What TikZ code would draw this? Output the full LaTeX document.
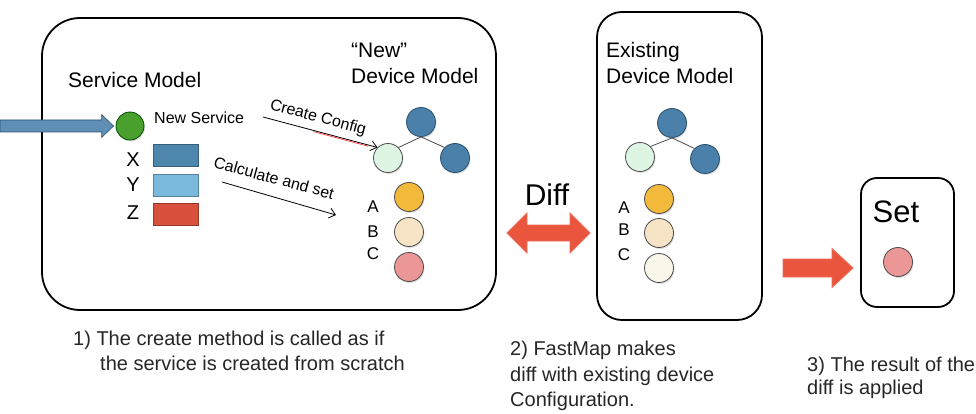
\documentclass[tikz,border=0pt]{standalone}
\usepackage{fontspec}
\setmainfont{Liberation Sans}
\usetikzlibrary{arrows.meta,shadows,calc}
\definecolor{tblue}{HTML}{4A80AA}
\definecolor{tblueb}{HTML}{2B506C}
\definecolor{lgreen}{HTML}{DDF5E2}
\definecolor{aorange}{HTML}{F2B93B}
\definecolor{bcream}{HTML}{F7E3C5}
\definecolor{cpink}{HTML}{EB9798}
\definecolor{cpale}{HTML}{FBF6EA}
\definecolor{sgreen}{HTML}{4AA02C}
\definecolor{xblue}{HTML}{4F86AD}
\definecolor{yblue}{HTML}{7AB8DC}
\definecolor{zred}{HTML}{D9503C}
\definecolor{arrblue}{HTML}{5F8FB5}
\definecolor{arrred}{HTML}{E9553D}
\tikzset{
  boxline/.style={draw=black, line width=1.8pt, fill=none, inner sep=0pt},
  circ/.style={circle, draw=black!70, line width=0.8pt, minimum size=29pt, inner sep=0pt,
     drop shadow={opacity=0.25, shadow xshift=1pt, shadow yshift=-1.5pt}},
  sq/.style={rectangle, line width=0.8pt, minimum width=45pt, minimum height=22pt, inner sep=0pt},
  big/.style={font=\fontsize{21}{26}\selectfont, inner sep=0pt},
  med/.style={font=\fontsize{16}{19}\selectfont, inner sep=0pt},
  small/.style={font=\fontsize{17}{20}\selectfont, inner sep=0pt},
  note/.style={font=\fontsize{20}{24}\selectfont, inner sep=0pt, align=left, text=black!85},
  thinarrow/.style={draw=black, line width=0.8pt, -{Straight Barb[length=6pt,width=10pt]}},
  treeedge/.style={draw=black!70, line width=0.8pt},
  fatblue/.style={fill=arrblue, draw=tblueb, line width=0.6pt},
  fatred/.style={fill=arrred, draw=arrred!85!white, line width=0.8pt},
}
\begin{document}
\begin{tikzpicture}[x=1pt,y=-1pt]
\useasboundingbox (0,0) rectangle (976,414);

% boxes
\node[boxline, rounded corners=38pt, minimum width=454pt, minimum height=292pt] (box1) at (269,164) {};
\node[boxline, rounded corners=25pt, minimum width=165pt, minimum height=308pt] (box2) at (679.5,166) {};
\node[boxline, rounded corners=16pt, minimum width=93pt, minimum height=129pt] (box3) at (907.5,242.5) {};

% titles
\node[big, anchor=west] (svc) at (68,80) {Service Model};
\node[big, anchor=west, align=left] (newdm) at (351,63) {“New”\\Device Model};
\node[big, anchor=west, align=left] (exdm) at (606,63) {Existing\\Device Model};

% service model
\node[circ, fill=sgreen, draw=green!30!black, minimum size=28pt] (sg) at (130,126) {};
\coordinate (in0) at (0,126);
\coordinate (in1) at ([xshift=-2pt]sg.west);
\fill[fatblue] ($(in0)+(0,-6)$) -- ($(in1)+(-12,-6)$) -- ($(in1)+(-12,-11.5)$) -- (in1)
   -- ($(in1)+(-12,11.5)$) -- ($(in1)+(-12,6)$) -- ($(in0)+(0,6)$) -- cycle;
\node[med, anchor=west] (newsvc) at (154,118) {New Service};
\node[sq, fill=xblue, draw=xblue!70!black] (rx) at (175.5,155) {};
\node[sq, fill=yblue, draw=yblue!70!black] (ry) at (175.5,185) {};
\node[sq, fill=zred, draw=zred!70!black] (rz) at (175.5,214.5) {};
\node[font=\fontsize{20}{24}\selectfont, inner sep=0pt] (lx) at (133,160) {X};
\node[font=\fontsize{20}{24}\selectfont, inner sep=0pt] (ly) at (133,185) {Y};
\node[font=\fontsize{20}{24}\selectfont, inner sep=0pt] (lz) at (133,213) {Z};

% new device tree
\node[circ, fill=tblue, draw=tblueb] (nt) at (421,122) {};
\node[circ, fill=lgreen] (nl) at (388,158) {};
\node[circ, fill=tblue, draw=tblueb] (nr) at (455,158) {};
\draw[treeedge] (nt.south) -- (nl.north east);
\draw[treeedge] (nt.south) -- (nr.north west);
\node[circ, fill=aorange] (na) at (409,197) {};
\node[circ, fill=bcream] (nb) at (409,232) {};
\node[circ, fill=cpink] (nc) at (409,267) {};
\node[small] (nla) at (373,207) {A};
\node[small] (nlb) at (373,232) {B};
\node[small] (nlc) at (373,254) {C};

% create config arrow
\coordinate (cc0) at (263,117);
\draw[thinarrow] (cc0) -- (nl.north west);
\draw[red!80, line width=0.7pt] ($(cc0)!0.44!(nl.north west)+(0,1.2)$) -- ($(cc0)!0.92!(nl.north west)+(0,1.2)$);
\node[med, rotate=-15] (cctext) at (318,118) {Create Config};

% calculate arrow
\coordinate (ca0) at (222,182);
\coordinate (ca1) at (336,215);
\draw[thinarrow] (ca0) -- (ca1);
\node[med, rotate=-15] (catext) at (274,178) {Calculate and set};

% existing device tree
\node[circ, fill=tblue, draw=tblueb] (et) at (672,123) {};
\node[circ, fill=lgreen] (el) at (640,157) {};
\node[circ, fill=tblue, draw=tblueb] (er) at (705,159) {};
\draw[treeedge] (et.south) -- (el.north east);
\draw[treeedge] (et.south) -- (er.north west);
\node[circ, fill=aorange] (ea) at (659,199) {};
\node[circ, fill=bcream] (eb) at (659,233) {};
\node[circ, fill=cpale] (ec) at (659,268) {};
\node[small] (ela) at (624,208) {A};
\node[small] (elb) at (624,230) {B};
\node[small] (elc) at (624,255) {C};

% diff arrow
\coordinate (d0) at (507,233);
\coordinate (d1) at (590,233);
\fill[fatred] (d0) -- ($(d0)+(20,-20)$) -- ($(d0)+(20,-8)$) -- ($(d1)+(-20,-8)$) -- ($(d1)+(-20,-20)$)
   -- (d1) -- ($(d1)+(-20,20)$) -- ($(d1)+(-20,8)$) -- ($(d0)+(20,8)$) -- ($(d0)+(20,20)$) -- cycle;
\node[font=\fontsize{30}{34}\selectfont, inner sep=0pt] (difftext) at (547,195) {Diff};

% set arrow
\coordinate (s0) at (783,268);
\coordinate (s1) at (853,268);
\fill[fatred] ($(s0)+(0,-9)$) -- ($(s1)+(-21,-9)$) -- ($(s1)+(-21,-19.5)$) -- (s1)
   -- ($(s1)+(-21,19.5)$) -- ($(s1)+(-21,9)$) -- ($(s0)+(0,9)$) -- cycle;
\node[font=\fontsize{31}{35}\selectfont, inner sep=0pt] (settext) at (896,212) {Set};
\node[circ, fill=cpink] (sc) at (898,262) {};

% notes
\node[note, anchor=west] (n1a) at (73,340) {1) The create method is called as if};
\node[note, anchor=west] (n1b) at (100,363) {the service is created from scratch};
\node[note, anchor=west, font=\fontsize{20}{25.5}\selectfont] (n2) at (510,376) {2) FastMap makes\\diff with existing device\\Configuration.};
\node[note, anchor=west, font=\fontsize{20}{22.5}\selectfont] (n3) at (807,378) {3) The result of the\\diff is applied};
\end{tikzpicture}
\end{document}
